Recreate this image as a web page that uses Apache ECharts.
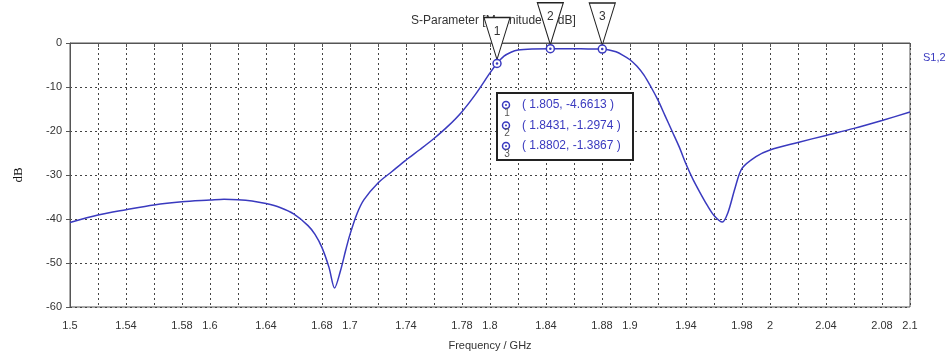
<!DOCTYPE html>
<html>
<head>
<meta charset="utf-8">
<script src="https://cdn.jsdelivr.net/npm/echarts@6/dist/echarts.min.js"></script>
<style>
  html, body { margin: 0; padding: 0; background: #fff; }
  #main { width: 948px; height: 356px; }
</style>
</head>
<body>
<div id="main"></div>
<script>
// S1,2 magnitude
var freq = [1.50, 1.52, 1.54, 1.56, 1.58, 1.60, 1.61, 1.62, 1.63, 1.64, 1.65, 1.66, 1.67, 1.675, 1.68, 1.685, 1.689,
  1.693, 1.697, 1.70, 1.705, 1.71, 1.72, 1.73, 1.74, 1.75, 1.76, 1.77, 1.78, 1.79, 1.80, 1.805, 1.81, 1.815, 1.82,
  1.83, 1.843, 1.86, 1.87, 1.88, 1.885, 1.89, 1.895, 1.90, 1.905, 1.91, 1.915, 1.92, 1.925, 1.93, 1.935, 1.94,
  1.945, 1.95, 1.955, 1.96, 1.966, 1.97, 1.975, 1.98, 1.99, 2.00, 2.02, 2.04, 2.06, 2.08, 2.10];
var s12 = [-40.8, -39.1, -37.9, -36.8, -36.1, -35.7, -35.5, -35.6, -35.9, -36.5, -37.4, -38.9, -41.5, -43.5, -46.5, -51, -55.7,
  -52, -47, -43.5, -38.8, -35.6, -31.8, -29.2, -26.6, -24.2, -21.7, -18.9, -15.6, -11.5, -6.8, -4.66, -3.0, -2.1, -1.6,
  -1.35, -1.30, -1.32, -1.35, -1.39, -1.6, -2.0, -2.8, -3.8, -5.3, -7.3, -10, -13, -16.5, -20, -23.5, -27.5,
  -31, -34, -36.8, -39.2, -40.7, -38.5, -33, -28.5, -25.8, -24.3, -22.6, -21.0, -19.4, -17.6, -15.7];

var markerFreq = [1.805, 1.8431, 1.8802];
var markerDb = [-4.6613, -1.2974, -1.3867];

var xLabels = ['1.5', '1.54', '1.58', '1.6', '1.64', '1.68', '1.7', '1.74', '1.78', '1.8',
  '1.84', '1.88', '1.9', '1.94', '1.98', '2', '2.04', '2.08', '2.1'];

var blue = '#3a3abf',
  font = 'Liberation Sans, Arial, sans-serif';

function buildBox() {
  var items = [{
    type: 'rect',
    z: 100,
    shape: { x: 497, y: 93, width: 136, height: 67 },
    style: { fill: '#fff', stroke: '#222', lineWidth: 2 }
  }];
  for (var i = 0; i < markerFreq.length; i++) {
    var y = 105 + i * 20.5;
    items.push({
      type: 'circle',
      z: 101,
      shape: { cx: 506, cy: y, r: 3.5 },
      style: { fill: '#fff', stroke: blue, lineWidth: 1.5 }
    }, {
      type: 'circle',
      z: 102,
      shape: { cx: 506, cy: y, r: 1 },
      style: { fill: blue }
    }, {
      type: 'text',
      z: 101,
      x: 507, y: y + 8,
      style: { text: String(i + 1), fill: '#555', font: '10px ' + font, align: 'center', verticalAlign: 'middle' }
    }, {
      type: 'text',
      z: 101,
      x: 522, y: y,
      style: {
        text: '( ' + markerFreq[i] + ', ' + markerDb[i] + ' )',
        fill: blue, font: '12px ' + font, verticalAlign: 'middle'
      }
    });
  }
  return items;
}

var markerData = markerFreq.map(function (f, i) { return [f, markerDb[i]]; });

var myChart = echarts.init(document.getElementById('main')),
  option = {
    animation: false,
    title: {
      text: 'S-Parameter [Magnitude in dB]',
      left: 406,
      top: 10,
      z: 0,
      textStyle: { color: '#333', fontSize: 12, fontWeight: 'normal', fontFamily: font }
    },
    legend: {
      data: ['S1,2'],
      icon: 'none',
      left: 913,
      top: 46,
      itemWidth: 0,
      textStyle: { color: blue, fontSize: 11, fontFamily: font }
    },
    grid: {
      left: 70,
      right: 38,
      top: 43,
      bottom: 49,
      show: true,
      borderColor: '#555',
      borderWidth: 1
    },
    xAxis: {
      type: 'value',
      min: 1.5,
      max: 2.1,
      interval: 0.02,
      name: 'Frequency / GHz',
      nameLocation: 'middle',
      nameGap: 33,
      nameTextStyle: { color: '#333', fontSize: 11, fontFamily: font },
      axisLine: { lineStyle: { color: '#555' } },
      axisTick: { show: true, length: 4, lineStyle: { color: '#555' } },
      axisLabel: {
        color: '#333',
        fontSize: 11,
        fontFamily: font,
        margin: 13,
        formatter: function (v) {
          var s = String(+v.toFixed(2));
          return xLabels.indexOf(s) >= 0 ? s : '';
        }
      },
      splitLine: { show: true, lineStyle: { color: '#444', type: [2, 3], width: 1 } }
    },
    yAxis: {
      type: 'value',
      min: -60,
      max: 0,
      interval: 10,
      name: 'dB',
      nameLocation: 'middle',
      nameGap: 45,
      nameTextStyle: { color: '#111', fontSize: 13, fontFamily: 'Liberation Serif, DejaVu Serif, serif' },
      axisLine: { show: true, lineStyle: { color: '#555' } },
      axisTick: { show: true, length: 4, lineStyle: { color: '#555' } },
      axisLabel: { color: '#333', fontSize: 11, fontFamily: font, margin: 8 },
      splitLine: { show: true, lineStyle: { color: '#444', type: [2, 3], width: 1 } }
    },
    series: [{
      name: 'S1,2',
      type: 'line',
      smooth: 0.3,
      showSymbol: false,
      lineStyle: { color: blue, width: 1.5 },
      itemStyle: { color: blue },
      data: freq.map(function (f, i) { return [f, s12[i]]; })
    }, {
      name: 'markers',
      type: 'scatter',
      z: 10,
      symbol: 'circle',
      symbolSize: 8,
      itemStyle: { color: '#fff', borderColor: blue, borderWidth: 1.5, opacity: 1 },
      data: markerData,
      markPoint: {
        symbol: 'path://M0,0L26,0L13,42Z',
        symbolSize: [26, 42],
        symbolOffset: [0, -25],
        itemStyle: { color: '#fff', borderColor: '#222', borderWidth: 1.2 },
        label: {
          show: true,
          position: 'inside',
          offset: [0, -7],
          color: '#333',
          fontSize: 12,
          fontFamily: font,
          formatter: function (p) { return String(p.dataIndex + 1); }
        },
        data: markerFreq.map(function (f, i) { return { coord: [f, markerDb[i]] }; })
      }
    }, {
      name: 'marker dots',
      type: 'scatter',
      z: 11,
      symbol: 'circle',
      symbolSize: 2.5,
      itemStyle: { color: blue, opacity: 1 },
      data: markerData
    }],
    graphic: buildBox()
  };
myChart.setOption(option, true);
</script>
</body>
</html>
